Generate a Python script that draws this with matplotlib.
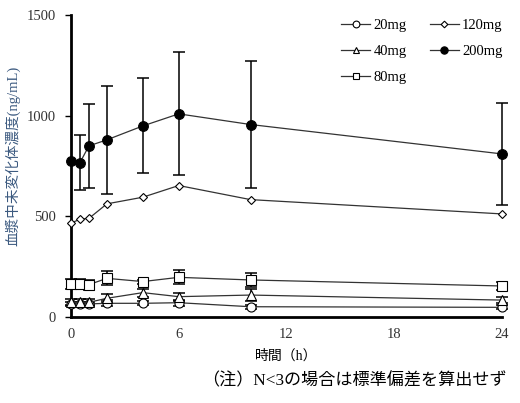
import matplotlib
matplotlib.use("Agg")
import matplotlib.pyplot as plt
import numpy as np

plt.rcParams["font.family"] = ["Liberation Serif", "Noto Sans CJK JP", "DejaVu Sans"]

# Time points (h)
times = [0, 0.5, 1, 2, 4, 6, 10, 24]

# Mean concentration (ng/mL) per dose
mean_20mg = [65, 65, 65, 68, 68, 71, 51, 48]
mean_40mg = [73, 73, 73, 93, 121, 101, 109, 84]
mean_80mg = [162, 162, 161, 192, 176, 197, 184, 154]
mean_120mg = [466, 486, 490, 562, 595, 653, 583, 512]
mean_200mg = [777, 767, 850, 880, 949, 1009, 956, 810]

# Standard deviation (nan = not calculated, N<3)
sd_20mg = [10, 10, 10, 15, 10, 15, 10, 10]
sd_40mg = [15, 15, 15, 20, 20, 20, 30, 15]
sd_80mg = [25, 25, 25, 35, 10, 35, 35, 20]
sd_120mg = [np.nan] * 8
sd_200mg = [np.nan, 135, 207, 268, 236, 305, 315, 255]

labels = ["20mg", "40mg", "80mg", "120mg", "200mg"]
y_ticks = [0, 500, 1000, 1500]
x_ticks = [0, 6, 12, 18, 24]


def main():
    fig = plt.figure(figsize=(5.2, 4.03), dpi=100)
    ax = fig.add_axes([71 / 520, 86 / 403, 431 / 520, 302 / 403])

    series = [
        (mean_20mg, sd_20mg, "o", "white", 6.5),
        (mean_40mg, sd_40mg, "^", "white", 6.5),
        (mean_80mg, sd_80mg, "s", "white", 6.5),
        (mean_120mg, sd_120mg, "D", "white", 4.5),
        (mean_200mg, sd_200mg, "o", "black", 7),
    ]

    t = np.array(times)
    handles = []
    for (mean, sd, marker, face, size), label in zip(series, labels):
        mean = np.array(mean, dtype=float)
        sd = np.array(sd, dtype=float)
        ok = ~np.isnan(sd)
        if ok.any():
            ax.errorbar(t[ok], mean[ok], yerr=sd[ok], fmt="none", ecolor="black",
                        elinewidth=1.1, capsize=4, capthick=1.1, clip_on=False, zorder=2)
        (h,) = ax.plot(t, mean, color="#333333", lw=0.9, marker=marker,
                       markersize=size, markerfacecolor=face,
                       markeredgecolor="black", markeredgewidth=0.8,
                       clip_on=False, zorder=3, label=label)
        handles.append(h)

    ax.set_xlim(0, 24)
    ax.set_ylim(0, 1500)
    ax.set_xticks(x_ticks)
    ax.set_yticks(y_ticks)
    ax.tick_params(axis="y", direction="out", length=4, width=1, labelsize=10.5,
                   labelcolor="#333333", pad=7)
    ax.tick_params(axis="x", length=0, labelsize=10.5, labelcolor="#333333", pad=8)
    for side in ["top", "right"]:
        ax.spines[side].set_visible(False)
    for side in ["left", "bottom"]:
        ax.spines[side].set_linewidth(2)

    ax.set_xlabel("時間（h）", fontsize=10, labelpad=6)
    ax.set_ylabel("血漿中未変化体濃度(ng/mL)", fontsize=10.5, color="#3c5a80")
    ax.yaxis.set_label_coords(-0.118, 0.535)

    fig.legend(handles=handles, ncol=2, loc="upper left",
               bbox_to_anchor=(334 / 520, 1 - 12 / 403), frameon=False,
               fontsize=10.5, handlelength=2.0, handletextpad=0.2,
               labelspacing=0.85, columnspacing=1.6, borderpad=0,
               markerscale=0.75)

    fig.text(507 / 520, 1 - 381 / 403, "（注）N<3の場合は標準偏差を算出せず",
             fontsize=12.3, ha="right", va="center")

    fig.savefig("out.png", dpi=100)


main()
